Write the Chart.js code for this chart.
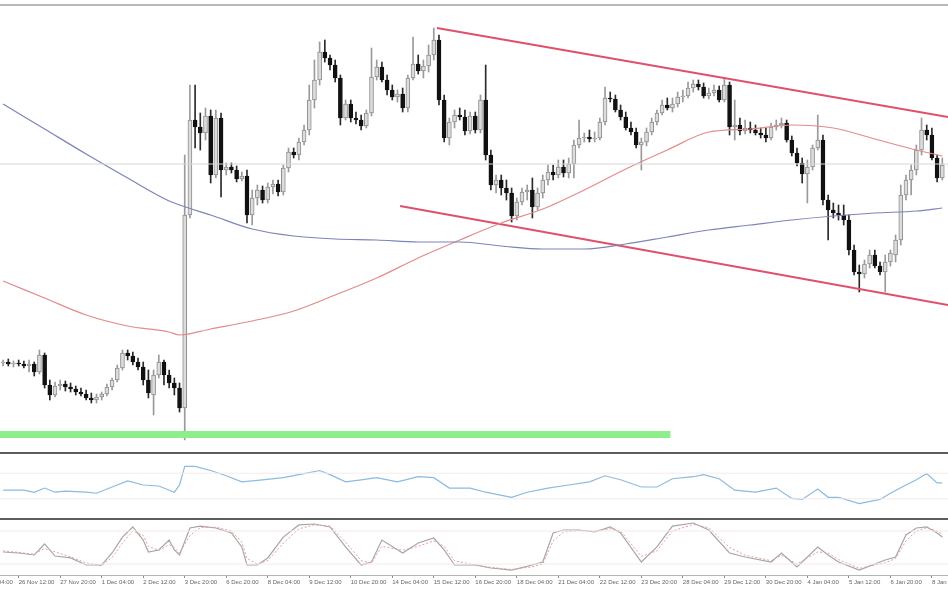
<!DOCTYPE html>
<html>
<head>
<meta charset="utf-8">
<script src="https://cdn.jsdelivr.net/npm/chart.js@4.4.1/dist/chart.umd.min.js"></script>
<style>
  html, body { margin: 0; padding: 0; background: #fff; }
  #wrap { position: relative; width: 948px; height: 593px; overflow: hidden; }
  canvas { position: absolute; left: 0; }
  .rule { position: absolute; left: 0; width: 948px; }
</style>
</head>
<body>
<div id="wrap">
  <canvas id="price" width="948" height="452" style="top:0"></canvas>
  <canvas id="rsi" width="948" height="64" style="top:454px"></canvas>
  <canvas id="stoch" width="948" height="73" style="top:520px"></canvas>
  <div class="rule" style="top:4px;height:2px;background:#b8b8b8"></div>
  <div class="rule" style="top:452px;height:2px;background:#5c5c5c"></div>
  <div class="rule" style="top:518px;height:2px;background:#5c5c5c"></div>
</div>
<script>
// time axis labels, placed on bar numbers
const tickBars = [-5, 3, 11, 19, 27, 35, 43, 51, 59, 67, 75, 83, 91, 99, 107, 115, 123, 131, 139, 147, 155, 163, 171, 179];
const tickLabels = ["25 Nov 04:00", "26 Nov 12:00", "27 Nov 20:00", "1 Dec 04:00", "2 Dec 12:00", "3 Dec 20:00",
  "6 Dec 20:00", "8 Dec 04:00", "9 Dec 12:00", "10 Dec 20:00", "14 Dec 04:00", "15 Dec 12:00", "16 Dec 20:00",
  "18 Dec 04:00", "21 Dec 04:00", "22 Dec 12:00", "23 Dec 20:00", "28 Dec 04:00", "29 Dec 12:00", "30 Dec 20:00",
  "4 Jan 04:00", "5 Jan 12:00", "6 Jan 20:00", "8 Jan 04:00"];

const opens = [
  1.0637,1.0638,1.0636,1.0637,1.0636,1.0634,1.0636,1.0628,1.0645,1.0615,
  1.0605,1.0614,1.0616,1.0613,1.0611,1.0608,1.0606,1.0602,1.0600,1.0603,
  1.0606,1.0613,1.0620,1.0632,1.0647,1.0644,1.0638,1.0633,1.0620,1.0605,
  1.0625,1.0638,1.0625,1.0617,1.0612,1.0592,1.0785,1.0880,1.0873,1.0867,
  1.0884,1.0825,1.0882,1.0830,1.0833,1.0830,1.0821,1.0824,1.0785,1.0802,
  1.0810,1.0800,1.0813,1.0816,1.0808,1.0832,1.0848,1.0845,1.0858,1.0870,
  1.0900,1.0920,1.0948,1.0942,1.0935,1.0922,1.0882,1.0896,1.0882,1.0880,
  1.0874,1.0887,1.0923,1.0933,1.0920,1.0910,1.0903,1.0906,1.0892,1.0922,
  1.0936,1.0929,1.0934,1.0945,1.0960,1.0900,1.0862,1.0878,1.0885,1.0883,
  1.0869,1.0884,1.0870,1.0900,1.0845,1.0815,1.0820,1.0812,1.0807,1.0784,
  1.0798,1.0808,1.0810,1.0793,1.0807,1.0820,1.0828,1.0825,1.0833,1.0827,
  1.0836,1.0855,1.0862,1.0863,1.0861,1.0862,1.0878,1.0902,1.0901,1.0890,
  1.0883,1.0872,1.0868,1.0855,1.0858,1.0868,1.0878,1.0887,1.0895,1.0892,
  1.0896,1.0903,1.0904,1.0912,1.0916,1.0913,1.0904,1.0907,1.0910,1.0900,
  1.0915,1.0873,1.0875,1.0869,1.0872,1.0870,1.0867,1.0865,1.0862,1.0873,
  1.0875,1.0877,1.0860,1.0847,1.0837,1.0826,1.0833,1.0852,1.0860,1.0800,
  1.0790,1.0787,1.0785,1.0780,1.0750,1.0728,1.0726,1.0736,1.0745,1.0734,
  1.0728,1.0738,1.0745,1.0760,1.0805,1.0820,1.0830,1.0850,1.0870,1.0865,
  1.0842,1.0822
];
const highs = [
  1.0640,1.0641,1.0639,1.0640,1.0639,1.0640,1.0638,1.0650,1.0647,1.0620,
  1.0618,1.0620,1.0619,1.0617,1.0614,1.0612,1.0610,1.0607,1.0606,1.0608,
  1.0616,1.0622,1.0635,1.0650,1.0650,1.0648,1.0642,1.0638,1.0630,1.0630,
  1.0645,1.0640,1.0630,1.0622,1.0617,1.0845,1.0915,1.0915,1.0887,1.0892,
  1.0890,1.0890,1.0887,1.0837,1.0837,1.0834,1.0828,1.0830,1.0810,1.0815,
  1.0814,1.0817,1.0820,1.0820,1.0835,1.0852,1.0852,1.0862,1.0875,1.0915,
  1.0940,1.0958,1.0960,1.0945,1.0940,1.0925,1.0900,1.0900,1.0888,1.0885,
  1.0890,1.0952,1.0940,1.0938,1.0925,1.0915,1.0910,1.0912,1.0925,1.0963,
  1.0945,1.0940,1.0955,1.0972,1.0965,1.0905,1.0882,1.0890,1.0892,1.0890,
  1.0888,1.0888,1.0905,1.0935,1.0850,1.0825,1.0825,1.0820,1.0812,1.0802,
  1.0812,1.0815,1.0822,1.0812,1.0825,1.0835,1.0835,1.0840,1.0840,1.0842,
  1.0860,1.0880,1.0867,1.0870,1.0868,1.0882,1.0913,1.0908,1.0905,1.0895,
  1.0888,1.0878,1.0872,1.0862,1.0872,1.0882,1.0890,1.0900,1.0902,1.0902,
  1.0908,1.0910,1.0918,1.0920,1.0920,1.0917,1.0912,1.0915,1.0914,1.0922,
  1.0918,1.0900,1.0882,1.0880,1.0878,1.0875,1.0872,1.0872,1.0877,1.0880,
  1.0882,1.0880,1.0864,1.0852,1.0842,1.0840,1.0855,1.0885,1.0865,1.0805,
  1.0797,1.0795,1.0795,1.0785,1.0755,1.0735,1.0740,1.0750,1.0750,1.0738,
  1.0745,1.0750,1.0765,1.0815,1.0825,1.0835,1.0855,1.0882,1.0875,1.0872,
  1.0845,1.0842
];
const lows = [
  1.0634,1.0634,1.0633,1.0634,1.0632,1.0628,1.0624,1.0626,1.0612,1.0600,
  1.0603,1.0610,1.0609,1.0608,1.0605,1.0604,1.0600,1.0597,1.0597,1.0600,
  1.0604,1.0610,1.0618,1.0630,1.0640,1.0635,1.0630,1.0615,1.0602,1.0585,
  1.0622,1.0615,1.0612,1.0605,1.0588,1.0560,1.0782,1.0852,1.0850,1.0860,
  1.0817,1.0822,1.0803,1.0825,1.0827,1.0818,1.0819,1.0777,1.0775,1.0795,
  1.0797,1.0797,1.0806,1.0804,1.0805,1.0828,1.0842,1.0840,1.0855,1.0865,
  1.0892,1.0915,1.0938,1.0930,1.0918,1.0875,1.0880,1.0878,1.0876,1.0870,
  1.0872,1.0884,1.0920,1.0918,1.0905,1.0900,1.0898,1.0888,1.0888,1.0920,
  1.0926,1.0922,1.0928,1.0940,1.0895,1.0858,1.0855,1.0872,1.0880,1.0865,
  1.0866,1.0867,1.0867,1.0840,1.0810,1.0807,1.0805,1.0800,1.0778,1.0780,
  1.0795,1.0800,1.0782,1.0790,1.0802,1.0815,1.0820,1.0822,1.0823,1.0822,
  1.0822,1.0852,1.0858,1.0858,1.0858,1.0860,1.0875,1.0898,1.0888,1.0880,
  1.0870,1.0865,1.0852,1.0830,1.0854,1.0865,1.0875,1.0885,1.0890,1.0888,
  1.0893,1.0898,1.0902,1.0908,1.0910,1.0902,1.0901,1.0904,1.0898,1.0898,
  1.0865,1.0860,1.0865,1.0866,1.0867,1.0865,1.0862,1.0858,1.0860,1.0870,
  1.0872,1.0858,1.0844,1.0834,1.0817,1.0797,1.0830,1.0850,1.0795,1.0760,
  1.0782,1.0780,1.0775,1.0745,1.0725,1.0708,1.0722,1.0732,1.0732,1.0725,
  1.0708,1.0734,1.0738,1.0755,1.0800,1.0805,1.0825,1.0845,1.0860,1.0840,
  1.0818,1.0820
];
const closes = [
  1.0638,1.0636,1.0637,1.0636,1.0634,1.0636,1.0628,1.0645,1.0615,1.0605,
  1.0614,1.0616,1.0613,1.0611,1.0608,1.0606,1.0602,1.0600,1.0603,1.0606,
  1.0613,1.0620,1.0632,1.0647,1.0644,1.0638,1.0633,1.0620,1.0607,1.0625,
  1.0638,1.0625,1.0617,1.0612,1.0592,1.0785,1.0880,1.0873,1.0867,1.0884,
  1.0825,1.0882,1.0830,1.0833,1.0830,1.0821,1.0824,1.0785,1.0802,1.0810,
  1.0800,1.0813,1.0816,1.0808,1.0832,1.0848,1.0845,1.0858,1.0870,1.0900,
  1.0920,1.0948,1.0942,1.0935,1.0922,1.0882,1.0896,1.0882,1.0880,1.0874,
  1.0887,1.0923,1.0933,1.0920,1.0910,1.0903,1.0906,1.0892,1.0922,1.0936,
  1.0929,1.0934,1.0945,1.0960,1.0900,1.0862,1.0878,1.0885,1.0883,1.0869,
  1.0884,1.0870,1.0900,1.0845,1.0815,1.0820,1.0812,1.0807,1.0784,1.0798,
  1.0808,1.0810,1.0793,1.0807,1.0820,1.0828,1.0825,1.0833,1.0827,1.0836,
  1.0855,1.0862,1.0863,1.0861,1.0862,1.0878,1.0902,1.0901,1.0890,1.0883,
  1.0872,1.0868,1.0855,1.0858,1.0868,1.0878,1.0887,1.0895,1.0892,1.0896,
  1.0903,1.0904,1.0912,1.0916,1.0913,1.0904,1.0907,1.0910,1.0900,1.0915,
  1.0873,1.0875,1.0869,1.0872,1.0870,1.0867,1.0865,1.0862,1.0873,1.0875,
  1.0877,1.0860,1.0847,1.0837,1.0826,1.0833,1.0852,1.0860,1.0800,1.0790,
  1.0787,1.0785,1.0780,1.0750,1.0728,1.0726,1.0736,1.0745,1.0734,1.0728,
  1.0738,1.0747,1.0760,1.0805,1.0820,1.0830,1.0850,1.0870,1.0865,1.0842,
  1.0822,1.0835
];

// moving averages, read at these bars
const maBars = [0, 8, 16, 24, 32, 34, 40, 48, 56, 64, 72, 80, 88, 96, 104, 112, 120, 128, 136, 144, 152, 160, 168, 176, 181];
const maSlow = [1.0896, 1.0871, 1.0846, 1.0822, 1.0799, 1.0795, 1.0785, 1.0771, 1.0764, 1.0761, 1.0760, 1.0758, 1.0758,
  1.0754, 1.0751, 1.0751, 1.0756, 1.0763, 1.0770, 1.0775, 1.0780, 1.0784, 1.0787, 1.0789, 1.0792];
const maFast = [1.0719, 1.0702, 1.0685, 1.0674, 1.0668, 1.0665, 1.0671, 1.0679, 1.0689, 1.0705, 1.0722, 1.0742, 1.0760,
  1.0777, 1.0791, 1.0810, 1.0831, 1.0850, 1.0868, 1.0871, 1.0875, 1.0872, 1.0861, 1.0850, 1.0844];

const levelPrice = 1.0836;
const channelTop = [[83.6, 1.0972], [182.1, 1.0883]];
const channelBottom = [[76.5, 1.0794], [182.1, 1.0695]];
const supportZone = [[-0.6, 1.05655], [128.6, 1.05655]];

const rsiBars = [0, 4, 6, 8, 10, 12, 16, 18, 21, 24, 27, 30, 33, 34, 35, 37, 40, 43, 46, 50, 54, 58, 61, 63, 66, 69, 72, 76,
  80, 83, 86, 90, 93, 98, 101, 105, 109, 113, 116, 119, 123, 126, 129, 133, 135, 138, 141, 145, 149, 152, 154, 157, 159,
  161, 165, 169, 171, 174, 176, 178, 180, 181];
const rsiValues = [43.5, 43.5, 40, 46.8, 40.3, 42, 40.3, 38.7, 48.4, 58, 51.6, 50, 40.3, 51.6, 80.6, 80.6, 74.2, 66, 56.5,
  59.7, 63, 69.4, 74.2, 67.7, 56.5, 59.7, 63, 56.5, 64.5, 63, 46.8, 46.8, 40.3, 32.3, 40.3, 46.8, 51.6, 56.5, 66, 59.7,
  48.4, 48.4, 61.3, 64.5, 67.7, 61.3, 43.5, 40.3, 46.8, 30.6, 29, 45.2, 32.3, 32.3, 22.6, 29, 38.7, 51.6, 59.7, 69.4,
  54.8, 54.8];
const rsiLevels = [70, 30];

const stochBars = [0, 3, 6, 8, 10, 13, 16, 19, 21, 23, 25, 27, 28, 30, 32, 33, 34, 36, 38, 41, 44, 46, 47, 49, 51, 54, 57,
  60, 63, 66, 69, 71, 73, 77, 80, 83, 85, 87, 91, 94, 98, 102, 104, 106, 108, 111, 114, 117, 119, 123, 126, 129, 133,
  136, 140, 143, 148, 150, 153, 157, 159, 161, 165, 170, 172, 174, 176, 178, 180, 181];
const stochMain = [41.8, 40, 36.4, 56.4, 34.5, 31, 18.2, 18.2, 40, 69, 87.3, 63.6, 41.8, 45.5, 63.6, 45.5, 36.4, 85.5, 89,
  85.5, 76.4, 51, 18.2, 18.2, 31, 69, 91, 92.7, 87.3, 51, 18.2, 23.6, 63.6, 40, 58.2, 67.3, 45.5, 18.2, 18.2, 12.7, 9,
  18.2, 23.6, 76.4, 81.8, 81.8, 78.2, 87.3, 76.4, 23.6, 51, 89, 94.5, 81.8, 40, 32.7, 23.6, 40, 14.5, 51, 36.4, 23.6, 9,
  27.3, 32.7, 72.7, 85.5, 87.3, 76.4, 69];
const stochSignal = [44, 41, 38, 48, 42, 33, 22, 17, 32, 58, 80, 72, 52, 45, 55, 50, 40, 72, 86, 87, 80, 60, 30, 20, 26,
  58, 84, 91, 89, 60, 26, 22, 52, 45, 52, 62, 52, 26, 18, 14, 10, 15, 20, 62, 78, 81, 80, 84, 80, 34, 44, 80, 92, 86, 50,
  36, 26, 36, 20, 42, 40, 28, 12, 22, 30, 62, 80, 86, 80, 74];
const stochLevels = [80, 20];

const X_MIN = -0.6;
const X_MAX = 182.1;

const pts = (xs, ys) => xs.map((x, i) => ({ x: x, y: ys[i] }));
const seg = (pairs) => pairs.map((p) => ({ x: p[0], y: p[1] }));
const flat = (v) => [{ x: X_MIN, y: v }, { x: X_MAX, y: v }];

const up = closes.map((c, i) => c >= opens[i]);

const lineSet = (data, color, width, extra) =>
  Object.assign({ type: "line", data: data, borderColor: color, borderWidth: width, pointRadius: 0, fill: false, order: 0 }, extra || {});

const hiddenX = { type: "linear", min: X_MIN, max: X_MAX, offset: false, display: false };
const baseOptions = {
  responsive: false,
  animation: false,
  events: [],
  layout: { padding: 0 },
  plugins: { legend: { display: false }, tooltip: { enabled: false } },
};

new Chart(document.getElementById("price"), {
  type: "bar",
  data: {
    datasets: [
      lineSet(seg(supportZone), "#8cef8c", 7),
      lineSet(flat(levelPrice), "#d6d6d6", 1),
      lineSet(pts(maBars, maSlow), "#7d84b8", 1.2, { cubicInterpolationMode: "monotone" }),
      lineSet(pts(maBars, maFast), "#e48a8a", 1.2, { cubicInterpolationMode: "monotone" }),
      lineSet(seg(channelTop), "#e0506a", 2),
      lineSet(seg(channelBottom), "#e0506a", 2),
      {
        data: closes.map((c, i) => ({ x: i, y: [opens[i], c] })),
        backgroundColor: up.map((u) => (u ? "#dcdcdc" : "#111111")),
        borderColor: up.map((u) => (u ? "#8e8e8e" : "#111111")),
        borderWidth: 1,
        borderSkipped: false,
        barThickness: 4,
        minBarLength: 1,
        grouped: false,
        order: 1,
      },
      {
        data: lows.map((l, i) => ({ x: i, y: [l, highs[i]] })),
        backgroundColor: up.map((u) => (u ? "#9a9a9a" : "#2a2a2a")),
        borderWidth: 0,
        barThickness: 1,
        grouped: false,
        order: 2,
      },
    ],
  },
  options: Object.assign({}, baseOptions, {
    scales: {
      x: hiddenX,
      y: { min: 1.0548, max: 1.1, display: false },
    },
  }),
});

new Chart(document.getElementById("rsi"), {
  type: "line",
  data: {
    datasets: [
      lineSet(flat(rsiLevels[0]), "#f6eaea", 1),
      lineSet(flat(rsiLevels[1]), "#f6eaea", 1),
      lineSet(pts(rsiBars, rsiValues), "#8bbbdd", 1.2),
    ],
  },
  options: Object.assign({}, baseOptions, {
    scales: {
      x: hiddenX,
      y: { min: 0, max: 100, display: false },
    },
  }),
});

new Chart(document.getElementById("stoch"), {
  type: "line",
  data: {
    datasets: [
      lineSet(flat(stochLevels[0]), "#f4eaea", 1),
      lineSet(flat(stochLevels[1]), "#f4eaea", 1),
      lineSet(pts(stochBars, stochSignal), "#e79a9a", 1, { borderDash: [2, 2] }),
      lineSet(pts(stochBars, stochMain), "#a6a6a6", 1.2),
    ],
  },
  options: Object.assign({}, baseOptions, {
    scales: {
      x: {
        type: "linear",
        min: X_MIN,
        max: X_MAX,
        offset: false,
        afterBuildTicks: (scale) => {
          scale.ticks = tickBars.map((v) => ({ value: v }));
        },
        afterFit: (scale) => {
          scale.height = 18;
          scale.paddingLeft = 0;
          scale.paddingRight = 0;
        },
        grid: { drawOnChartArea: false, drawTicks: true, tickLength: 3, color: "#8a8a8a" },
        border: { display: true, color: "#b4b4b4" },
        ticks: {
          autoSkip: false,
          maxRotation: 0,
          minRotation: 0,
          align: "start",
          padding: 1,
          color: "#666666",
          font: { size: 6, family: "Liberation Sans" },
          callback: (value) => tickLabels[tickBars.indexOf(value)],
        },
      },
      y: { min: 0, max: 100, display: false },
    },
  }),
});
</script>
</body>
</html>
